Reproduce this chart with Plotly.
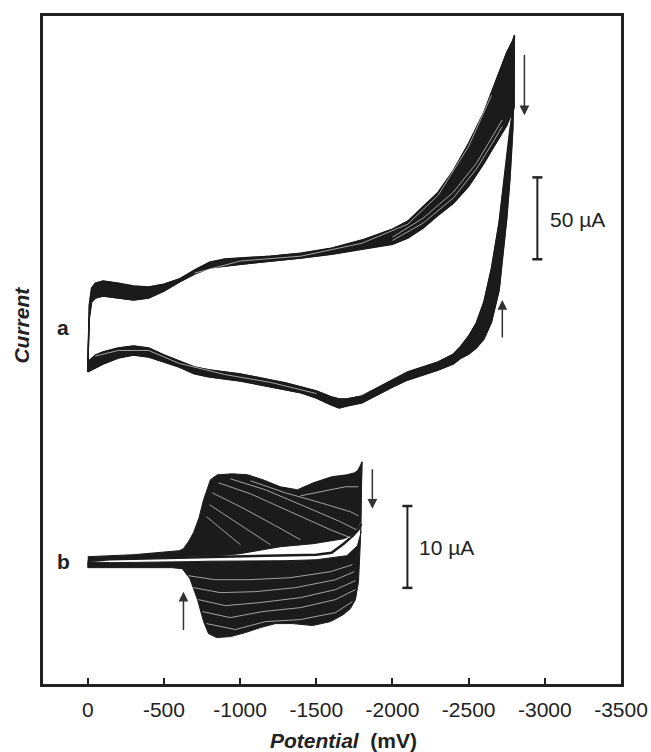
import plotly.graph_objects as go

# ---------------- data ----------------
# x axis ticks (potential, mV)
x_ticks = [0, -500, -1000, -1500, -2000, -2500, -3000, -3500]
x_tick_labels = ["0", "-500", "-1000", "-1500", "-2000", "-2500", "-3000", "-3500"]

# curve a (current in µA): forward scan 0 -> -2800 mV, envelope of first and last cycle
a_fwd_E = [0, -10, -25, -50, -100, -200, -300, -400, -500, -600, -700, -800, -900, -1000,
           -1200, -1400, -1600, -1800, -2000, -2100, -2200, -2300, -2400, -2500, -2600,
           -2650, -2700, -2750, -2790, -2800]
a_fwd_first = [-26.8, 14.0, 24.4, 27.4, 28.7, 27.4, 25.6, 25.0, 26.8, 29.9, 35.4, 40.2, 42.1, 42.7,
               43.9, 45.7, 48.8, 53.7, 60.4, 65.2, 73.8, 82.9, 96.3, 112.8, 131.7,
               143.9, 155.5, 168.3, 175.6, 178.7]
a_fwd_last = [-20.7, 6.1, 15.9, 18.3, 19.5, 18.3, 17.1, 18.3, 22.6, 28.0, 32.9, 36.6, 37.8, 39.0,
              40.9, 42.7, 45.1, 48.2, 51.2, 54.9, 61.0, 68.9, 76.2, 86.6, 100.6,
              108.5, 115.9, 123.8, 132.9, 136.0]
# curve a reverse scan -2800 -> 0 mV
a_rev_E = [-2800, -2795, -2790, -2780, -2770, -2750, -2720, -2700, -2650, -2600, -2550, -2500,
           -2450, -2400, -2300, -2200, -2100, -2000, -1900, -1800, -1700, -1650, -1600, -1500,
           -1400, -1300, -1200, -1100, -1000, -900, -800, -700, -600, -500, -400, -300, -200,
           -100, -50, 0]
a_rev_first = [178.7, 139.0, 122.0, 105.5, 90.2, 67.1, 40.2, 23.2, 3.7, -6.7, -12.2, -15.9,
               -18.3, -21.9, -25.6, -28.7, -31.7, -36.0, -40.9, -45.7, -47.6, -48.8, -47.0, -42.7,
               -39.6, -37.8, -36.0, -34.1, -32.3, -31.1, -29.9, -28.0, -23.8, -20.7, -17.7, -16.5,
               -18.3, -22.0, -24.4, -26.8]
a_rev_last = [136.0, 134.1, 131.7, 126.8, 120.7, 104.9, 80.5, 64.6, 36.6, 15.9, 3.0, -4.9,
              -11.0, -15.9, -20.7, -23.8, -26.8, -31.7, -36.6, -41.5, -43.3, -43.3, -42.1, -38.4,
              -36.0, -33.5, -31.7, -29.9, -28.0, -26.8, -25.6, -23.8, -20.1, -16.5, -12.2, -11.0,
              -12.2, -14.6, -16.5, -20.7]
# thin gaps separating individual cycles of a
a_gap_fwd_E = [[-700, -1000, -1400, -1800, -2100, -2300, -2500, -2650],
               [-2000, -2200, -2400, -2550, -2650, -2720],
               [-2000, -2200, -2400, -2550, -2650, -2720]]
a_gap_fwd = [[33.5, 40.9, 43.9, 51.8, 63.4, 81.1, 111.0, 142.1],
             [53.5, 64.0, 79.5, 97.0, 112.0, 123.0],
             [55.5, 67.0, 83.0, 100.5, 116.0, 127.0]]
a_gap_rev_E = [[-50, -200, -400, -600, -900, -1200, -1500]]
a_gap_rev = [[-17.1, -13.7, -13.7, -21.6, -28.4, -33.2, -40.0]]

# curve b (current in µA)
b_fwd_last_E = [0, -300, -600, -628, -660, -694, -730, -760, -805, -850, -950, -1050, -1150,
                -1264, -1376, -1480, -1600, -1700, -1750, -1770, -1785, -1800]
b_fwd_last = [0.61, 0.85, 1.34, 1.59, 2.44, 3.54, 5.37, 7.56, 10.0, 10.61, 10.73, 10.61, 10.0,
              9.15, 8.78, 9.63, 10.37, 10.61, 10.85, 11.10, 11.59, 12.20]
b_fan_low_E = [-650, -900, -1000, -1265, -1480, -1680, -1750, -1790]
b_fan_low = [0.67, 0.79, 0.98, 1.83, 2.20, 2.80, 3.41, 4.88]
b_fwd_first_E = [0, -150, -300, -650, -1000, -1300, -1500, -1600, -1680, -1740, -1775, -1795]
b_fwd_first = [0.12, 0.30, 0.37, 0.49, 0.61, 0.73, 0.85, 1.10, 2.20, 3.17, 3.90, 4.63]
b_rev_first_E = [-1795, -1770, -1700, -1500, -1300, -1000, -800, -650, -400, -150, 0]
b_rev_first = [3.66, 1.95, 0.73, 0.24, 0.12, 0.12, 0.06, 0.0, -0.06, -0.12, 0.0]
b_rev_last_E = [-1800, -1795, -1790, -1777, -1757, -1724, -1678, -1593, -1475, -1344, -1232,
                -1133, -1035, -937, -845, -792, -760, -720, -670, -620, -550, -300, 0]
b_rev_last = [12.20, 7.56, 2.68, -2.44, -4.63, -5.73, -6.46, -7.32, -7.80, -7.56, -7.56,
              -8.05, -8.66, -9.15, -9.27, -8.78, -7.32, -4.63, -2.07, -0.85, -0.73, -0.73, -0.73]
# gaps between successive cycles of b (forward scans, upper fan)
b_gap_up_E = [[-858, -1068, -1330, -1593, -1724],
              [-936, -1166, -1429, -1658, -1763],
              [-1068, -1297, -1527, -1724, -1776],
              [-1396, -1560, -1691, -1776],
              [-818, -1002, -1232, -1396],
              [-799, -949, -1120, -1199],
              [-779, -897, -1002]]
b_gap_up_I = [[9.63, 8.29, 6.10, 3.90, 2.93],
              [10.12, 8.78, 6.71, 4.88, 3.90],
              [9.88, 8.41, 7.20, 6.10, 5.61],
              [8.05, 8.66, 9.15, 9.15],
              [8.41, 6.71, 4.39, 2.68],
              [6.95, 5.12, 3.05, 2.07],
              [5.49, 3.66, 2.07]]
# gaps between successive cycles of b (reverse scans, lower fan)
b_gap_lo_E = [[-660, -833, -1062, -1330, -1593, -1737],
              [-693, -870, -1101, -1364, -1626, -1750],
              [-726, -903, -1133, -1396, -1626, -1757],
              [-753, -936, -1146, -1396, -1626, -1757],
              [-779, -969, -1166, -1396, -1626, -1737]]
b_gap_lo_I = [[-1.71, -2.20, -2.20, -1.95, -1.22, -0.37],
              [-3.17, -3.78, -3.66, -3.17, -2.20, -1.22],
              [-4.63, -5.37, -4.99, -4.39, -3.41, -2.32],
              [-6.10, -6.83, -6.10, -5.61, -4.63, -3.41],
              [-7.56, -8.29, -7.32, -7.07, -6.22, -4.88]]

# scale bars
a_bar_E, a_bar_I = -2951, [42.0, 92.0]     # 50 µA
b_bar_E, b_bar_I = -2098, [-3.2, 6.8]      # 10 µA

# ---------------- figure ----------------
INK = '#1b1b1b'
FRAME = '#222222'
GAP = '#dcdcdc'
FONT = 'Liberation Sans, Arial, Helvetica, sans-serif'

fig = go.Figure()


def poly(xs, ys, yaxis):
    fig.add_trace(go.Scatter(x=xs, y=ys, mode='lines', fill='toself', fillcolor=INK,
                             line=dict(color=INK, width=1), yaxis=yaxis,
                             hoverinfo='skip', showlegend=False))


def line(xs, ys, yaxis, color=INK, width=1.5):
    fig.add_trace(go.Scatter(x=xs, y=ys, mode='lines', line=dict(color=color, width=width),
                             yaxis=yaxis, hoverinfo='skip', showlegend=False))


# curve a bands
poly(a_fwd_E + a_fwd_E[::-1], a_fwd_first + a_fwd_last[::-1], 'y')
poly(a_rev_E + a_rev_E[::-1], a_rev_first + a_rev_last[::-1], 'y')
line(a_fwd_E + a_rev_E, a_fwd_first + a_rev_first, 'y')
line(a_fwd_E + a_rev_E, a_fwd_last + a_rev_last, 'y')
for xs, ys in zip(a_gap_fwd_E + a_gap_rev_E, a_gap_fwd + a_gap_rev):
    line(xs, ys, 'y', color=GAP, width=0.7)

# curve b
tail_E = [e for e in b_fwd_first_E if e >= -650]
tail_I = b_fwd_first[:len(tail_E)]
poly(b_fwd_last_E + b_fan_low_E[::-1] + tail_E[::-1],
     b_fwd_last + b_fan_low[::-1] + tail_I[::-1], 'y2')
poly(b_rev_first_E + b_rev_last_E[::-1], b_rev_first + b_rev_last[::-1], 'y2')
line(b_fwd_first_E, b_fwd_first, 'y2', width=2.5)
for xs, ys in zip(b_gap_up_E + b_gap_lo_E, b_gap_up_I + b_gap_lo_I):
    line(xs, ys, 'y2', color=GAP, width=0.7)

# plot area geometry (pixels)
L, R, T, B = 42.5, 620.7, 15.5, 684.5
W, H = 651, 752

shapes = []
cap = 33
for (ex, (y0, y1), ref) in [(a_bar_E, a_bar_I, 'y'), (b_bar_E, b_bar_I, 'y2')]:
    shapes.append(dict(type='line', xref='x', yref=ref, x0=ex, x1=ex, y0=y0, y1=y1,
                       line=dict(color=FRAME, width=2)))
    for yy in (y0, y1):
        shapes.append(dict(type='line', xref='x', yref=ref, x0=ex - cap, x1=ex + cap, y0=yy, y1=yy,
                           line=dict(color=FRAME, width=2.5)))

ann = []


def arrow(x, y, ax, ay, ref):
    ann.append(dict(x=x, y=y, ax=ax, ay=ay, xref='x', yref=ref, axref='x', ayref=ref,
                    text='', showarrow=True, arrowhead=2, arrowsize=1.3, arrowwidth=1.5,
                    arrowcolor='#333333', standoff=0))


arrow(-2866, 129.9, -2866, 167.7, 'y')
arrow(-2721, 17.1, -2721, -6.7, 'y')
arrow(-1868, 6.46, -1868, 11.46, 'y2')
arrow(-628, -3.66, -628, -8.54, 'y2')

ann.append(dict(x=a_bar_E - 72, y=sum(a_bar_I) / 2 - 1, xref='x', yref='y', text='50 µA',
                showarrow=False, xanchor='left', yanchor='middle',
                font=dict(family=FONT, size=21, color=FRAME)))
ann.append(dict(x=b_bar_E - 66, y=sum(b_bar_I) / 2 - 0.1, xref='x', yref='y2', text='10 µA',
                showarrow=False, xanchor='left', yanchor='middle',
                font=dict(family=FONT, size=21, color=FRAME)))
ann.append(dict(x=(63 - L) / (R - L), y=0.6, xref='paper', yref='y', text='<b>a</b>',
                showarrow=False, xanchor='center', yanchor='middle',
                font=dict(family=FONT, size=21, color=FRAME)))
ann.append(dict(x=(63 - L) / (R - L), y=0.0, xref='paper', yref='y2', text='<b>b</b>',
                showarrow=False, xanchor='center', yanchor='middle',
                font=dict(family=FONT, size=21, color=FRAME)))
ann.append(dict(x=(21 - L) / (R - L), y=(B - 325) / (B - T), xref='paper', yref='paper',
                text='<b><i>Current</i></b>', textangle=-90, showarrow=False,
                xanchor='center', yanchor='middle',
                font=dict(family=FONT, size=21, color=FRAME)))
ann.append(dict(x=(343 - L) / (R - L), y=(B - 741) / (B - T), xref='paper', yref='paper',
                text='<b><i>Potential</i>\u00a0\u00a0(mV)</b>', showarrow=False,
                xanchor='center', yanchor='middle',
                font=dict(family=FONT, size=21, color=FRAME)))

px_per_mV = (R - 87.3) / 3500.0
x_left = (87.3 - L) / px_per_mV

fig.update_layout(
    template='none',
    width=W, height=H,
    margin=dict(l=L, r=W - R, t=T, b=H - B, pad=0),
    paper_bgcolor='white', plot_bgcolor='white',
    showlegend=False,
    xaxis=dict(range=[x_left, -3500], tickmode='array', tickvals=x_ticks, ticktext=x_tick_labels,
               ticks='inside', ticklen=6, tickwidth=2, tickcolor=FRAME, automargin=False,
               showline=True, mirror=True, linewidth=3, linecolor=FRAME,
               showgrid=False, zeroline=False, ticklabelstandoff=5,
               tickfont=dict(family=FONT, size=21, color=FRAME)),
    yaxis=dict(range=[(328 - B) / 1.64, (328 - T) / 1.64], showticklabels=False, ticks='',
               showline=True, mirror=True, linewidth=3, linecolor=FRAME, automargin=False,
               showgrid=False, zeroline=False),
    yaxis2=dict(range=[(562 - B) / 8.2, (562 - T) / 8.2], overlaying='y', visible=False,
                showgrid=False, zeroline=False, automargin=False),
    shapes=shapes, annotations=ann,
)

fig.write_html("out.html")
